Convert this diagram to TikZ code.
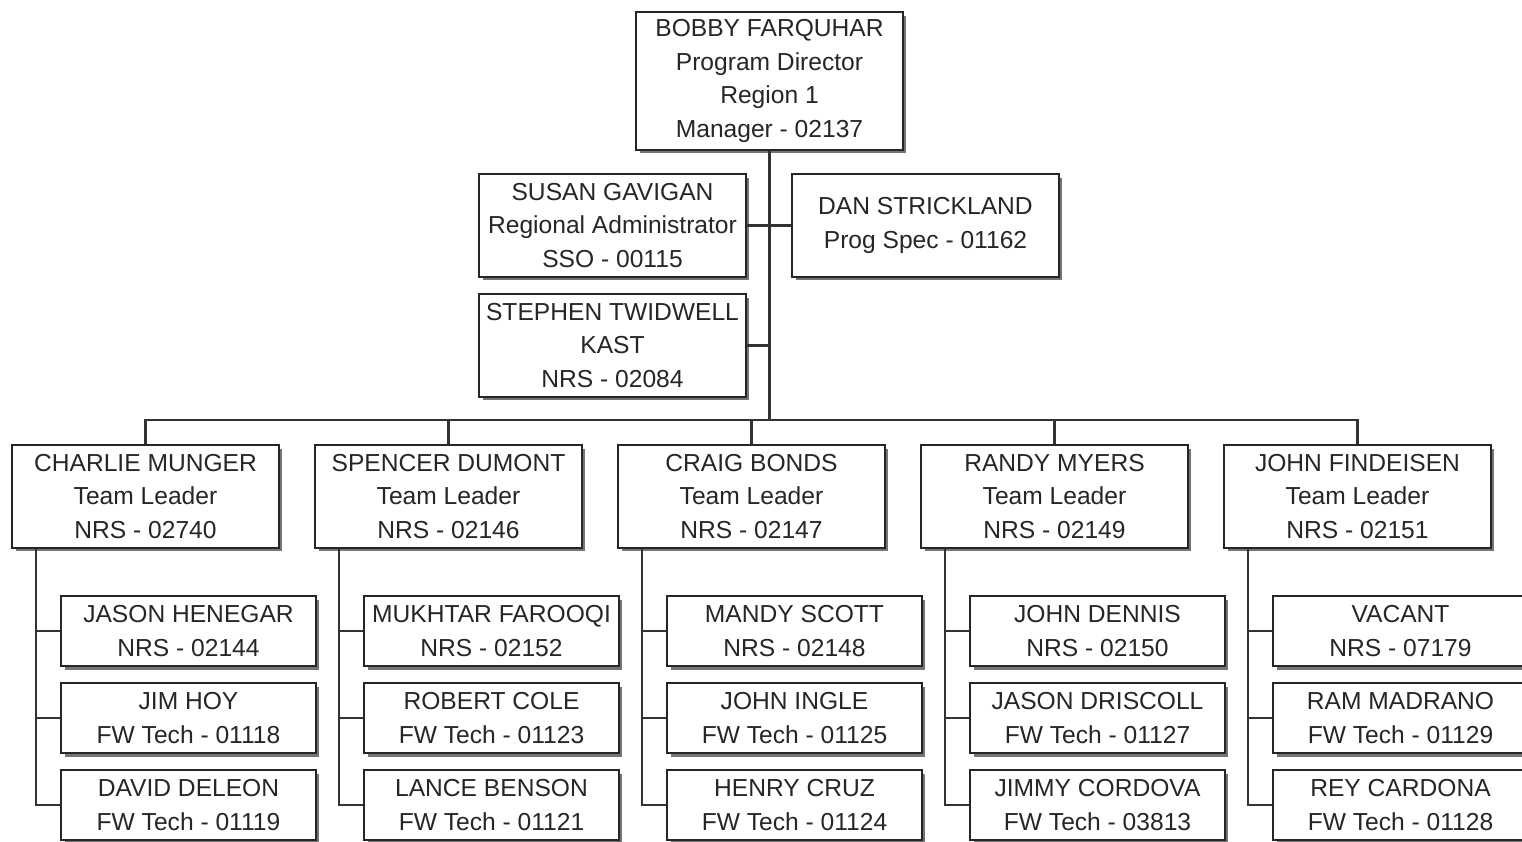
\documentclass[tikz,border=0pt]{standalone}
\usepackage{fontspec}
\setmainfont{Liberation Sans}
\usepackage{xcolor}
\usetikzlibrary{shadows}

\tikzset{
  box/.style={draw=black!85, line width=1.2pt, fill=white, align=center,
    inner sep=0pt, text=black!85, font=\fontsize{14}{19}\selectfont,
    drop shadow={shadow xshift=0.07cm, shadow yshift=-0.07cm, fill=black!60, opacity=0.9}},
  bigbox/.style={box, minimum width=5.34cm, minimum height=2.06cm},
  smallbox/.style={box, minimum width=5.1cm, minimum height=1.4cm},
  link/.style={draw=black!80, line width=1.3pt}
}

\begin{document}
\begin{tikzpicture}[x=0.02cm, y=-0.02cm]
            \useasboundingbox (0,0) rectangle (1522,842);

            % Direttore
            \node[box, minimum width=5.34cm, minimum height=2.76cm] (bobby) at (769.5,81)
                {BOBBY FARQUHAR\\Program Director\\Region 1\\Manager - 02137};

            % Staff
            \node[bigbox] (susan) at (612.5,225.5) {SUSAN GAVIGAN\\Regional Administrator\\SSO - 00115};
            \node[bigbox] (dan) at (925.5,225.5) {DAN STRICKLAND\\Prog Spec - 01162};
            \node[bigbox] (stephen) at (612.5,345.5) {STEPHEN TWIDWELL\\KAST\\NRS - 02084};

            % Team leader
            \node[bigbox] (charlie) at (145.5,496.5) {CHARLIE MUNGER\\Team Leader\\NRS - 02740};
            \node[bigbox] (spencer) at (448.5,496.5) {SPENCER DUMONT\\Team Leader\\NRS - 02146};
            \node[bigbox] (craig) at (751.5,496.5) {CRAIG BONDS\\Team Leader\\NRS - 02147};
            \node[bigbox] (randy) at (1054.5,496.5) {RANDY MYERS\\Team Leader\\NRS - 02149};
            \node[bigbox] (johnf) at (1357.5,496.5) {JOHN FINDEISEN\\Team Leader\\NRS - 02151};

            % Squadra 1
            \node[smallbox] (jason) at (188.5,631) {JASON HENEGAR\\NRS - 02144};
            \node[smallbox] (jim) at (188.5,718) {JIM HOY\\FW Tech - 01118};
            \node[smallbox] (david) at (188.5,805) {DAVID DELEON\\FW Tech - 01119};
            % Squadra 2
            \node[smallbox] (mukhtar) at (491.5,631) {MUKHTAR FAROOQI\\NRS - 02152};
            \node[smallbox] (robert) at (491.5,718) {ROBERT COLE\\FW Tech - 01123};
            \node[smallbox] (lance) at (491.5,805) {LANCE BENSON\\FW Tech - 01121};
            % Squadra 3
            \node[smallbox] (mandy) at (794.5,631) {MANDY SCOTT\\NRS - 02148};
            \node[smallbox] (ingle) at (794.5,718) {JOHN INGLE\\FW Tech - 01125};
            \node[smallbox] (henry) at (794.5,805) {HENRY CRUZ\\FW Tech - 01124};
            % Squadra 4
            \node[smallbox] (dennis) at (1097.5,631) {JOHN DENNIS\\NRS - 02150};
            \node[smallbox] (driscoll) at (1097.5,718) {JASON DRISCOLL\\FW Tech - 01127};
            \node[smallbox] (jimmy) at (1097.5,805) {JIMMY CORDOVA\\FW Tech - 03813};
            % Squadra 5
            \node[smallbox] (vacant) at (1400.5,631) {VACANT\\NRS - 07179};
            \node[smallbox] (ram) at (1400.5,718) {RAM MADRANO\\FW Tech - 01129};
            \node[smallbox] (rey) at (1400.5,805) {REY CARDONA\\FW Tech - 01128};

            % Collegamenti
            \coordinate (bus) at (769.5,420);
            \draw[link] (bobby.south) -- (bus);
            \draw[link] (susan.east) -- (susan.east -| bobby.south);
            \draw[link] (dan.west) -- (dan.west -| bobby.south);
            \draw[link] (stephen.east) -- (stephen.east -| bobby.south);

            \draw[link] (charlie.north) |- (bus) -| (johnf.north);
            \draw[link] (spencer.north) -- (spencer.north |- bus);
            \draw[link] (craig.north) -- (craig.north |- bus);
            \draw[link] (randy.north) -- (randy.north |- bus);

            % Linee delle squadre
            \coordinate (t1) at ([xshift=0.5cm]charlie.south west);
            \coordinate (t2) at ([xshift=0.5cm]spencer.south west);
            \coordinate (t3) at ([xshift=0.5cm]craig.south west);
            \coordinate (t4) at ([xshift=0.5cm]randy.south west);
            \coordinate (t5) at ([xshift=0.5cm]johnf.south west);

            \draw[link] (t1) |- (david.west);
            \draw[link] (jason.west) -- (jason.west -| t1);
            \draw[link] (jim.west) -- (jim.west -| t1);

            \draw[link] (t2) |- (lance.west);
            \draw[link] (mukhtar.west) -- (mukhtar.west -| t2);
            \draw[link] (robert.west) -- (robert.west -| t2);

            \draw[link] (t3) |- (henry.west);
            \draw[link] (mandy.west) -- (mandy.west -| t3);
            \draw[link] (ingle.west) -- (ingle.west -| t3);

            \draw[link] (t4) |- (jimmy.west);
            \draw[link] (dennis.west) -- (dennis.west -| t4);
            \draw[link] (driscoll.west) -- (driscoll.west -| t4);

            \draw[link] (t5) |- (rey.west);
            \draw[link] (vacant.west) -- (vacant.west -| t5);
            \draw[link] (ram.west) -- (ram.west -| t5);
        \end{tikzpicture}
\end{document}
